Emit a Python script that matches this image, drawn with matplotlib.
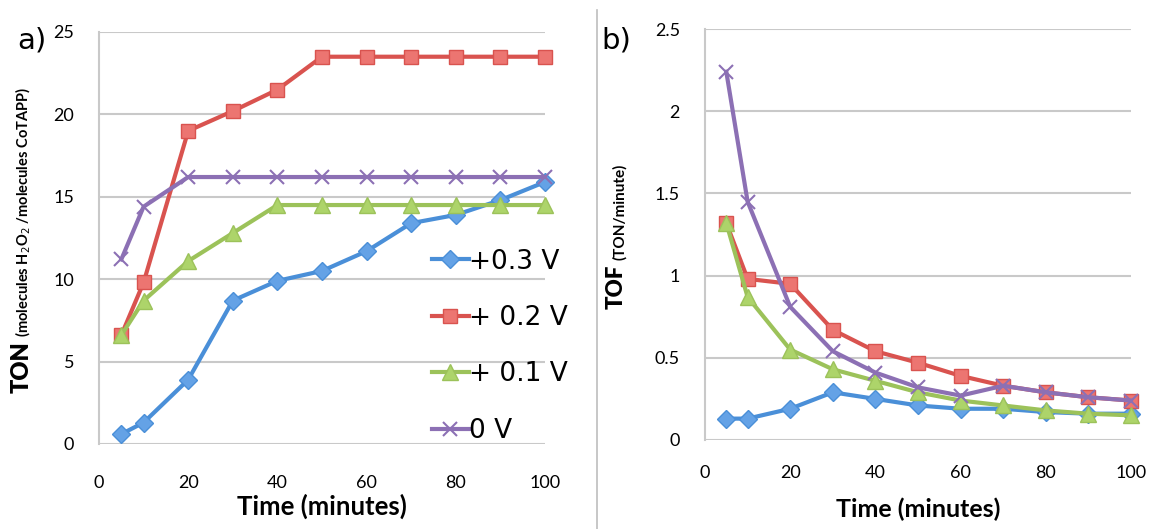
import matplotlib
matplotlib.use("Agg")
import matplotlib.pyplot as plt
from matplotlib.lines import Line2D

# ---- data ----
time_min = [5, 10, 20, 30, 40, 50, 60, 70, 80, 90, 100]

ton_03 = [0.6, 1.3, 3.9, 8.7, 9.9, 10.5, 11.7, 13.4, 13.9, 14.8, 15.9]
ton_02 = [6.6, 9.8, 19.0, 20.2, 21.5, 23.5, 23.5, 23.5, 23.5, 23.5, 23.5]
ton_01 = [6.6, 8.7, 11.1, 12.8, 14.5, 14.5, 14.5, 14.5, 14.5, 14.5, 14.5]
ton_00 = [11.2, 14.4, 16.2, 16.2, 16.2, 16.2, 16.2, 16.2, 16.2, 16.2, 16.2]

tof_03 = [0.13, 0.13, 0.19, 0.29, 0.25, 0.21, 0.19, 0.19, 0.17, 0.16, 0.16]
tof_02 = [1.32, 0.98, 0.95, 0.67, 0.54, 0.47, 0.39, 0.33, 0.29, 0.26, 0.24]
tof_01 = [1.32, 0.87, 0.55, 0.43, 0.36, 0.29, 0.24, 0.21, 0.18, 0.16, 0.15]
tof_00 = [2.24, 1.45, 0.81, 0.54, 0.41, 0.32, 0.27, 0.33, 0.29, 0.26, 0.24]

series_labels = ["+0.3 V", "+ 0.2 V", "+ 0.1 V", "0 V"]
x_ticks = [0, 20, 40, 60, 80, 100]
ton_ticks = [0, 5, 10, 15, 20, 25]
tof_ticks = [0, 0.5, 1, 1.5, 2, 2.5]
tof_tick_labels = ["0", "0.5", "1", "1.5", "2", "2.5"]

# ---- styles ----
styles = [
    dict(color="#4a8fd8", marker="D", markersize=9, mfc="#64a2e6", mec="#4a8fd8"),
    dict(color="#d9534f", marker="s", markersize=10, mfc="#ec7571", mec="#d9534f"),
    dict(color="#9cc25a", marker="^", markersize=11, mfc="#add46a", mec="#9cc25a"),
    dict(color="#8c70b4", marker="x", markersize=10, mfc="none", mec="#8c70b4",
         markeredgewidth=1.5),
]
GRID = "#c9c9c9"
FONT = "Lato"

W, H = 1154, 529
fig = plt.figure(figsize=(W / 100, H / 100), dpi=100)


def px_axes(x0, y0, x1, y1):
    # pixel box (top-left origin) -> figure axes
    return fig.add_axes([x0 / W, 1 - y1 / H, (x1 - x0) / W, (y1 - y0) / H])


def style_axes(ax, yticks, ylabels, ymax, xpad, ypad, ysize):
    ax.set_xlim(0, 100)
    ax.set_ylim(0, ymax)
    ax.set_xticks(x_ticks)
    ax.set_yticks(yticks)
    ax.set_yticklabels(ylabels)
    ax.tick_params(length=0)
    ax.tick_params(axis="x", pad=xpad, labelsize=13)
    ax.tick_params(axis="y", pad=ypad, labelsize=ysize)
    for lab in ax.get_xticklabels() + ax.get_yticklabels():
        lab.set_fontfamily(FONT)
    for s in ("top", "right", "bottom"):
        ax.spines[s].set_visible(False)
    ax.spines["left"].set_color(GRID)
    ax.spines["left"].set_linewidth(1.5)
    ax.grid(axis="y", color=GRID, linewidth=1.5)
    ax.set_axisbelow(True)


# ---- panel a: TON ----
ax1 = px_axes(99, 32, 545, 444)
for ys, st in zip([ton_03, ton_02, ton_01, ton_00], styles):
    ax1.plot(time_min, ys, linewidth=3, clip_on=False, **st)
style_axes(ax1, ton_ticks, [str(t) for t in ton_ticks], 25, 22, 18, 13)
ax1.set_xlabel("Time (minutes)", fontfamily=FONT, fontweight="bold",
               fontsize=18.5, labelpad=2)

handles = [Line2D([], [], linewidth=3, **st) for st in styles]
leg = ax1.legend(handles, series_labels, loc="lower right",
                 bbox_to_anchor=((578 - 99) / (545 - 99), -0.025),
                 frameon=False, prop=dict(family="DejaVu Sans", size=19),
                 handlelength=1.4, handletextpad=0.0, labelspacing=1.15,
                 borderaxespad=0.0)
leg.set_zorder(5)

# ---- panel b: TOF ----
ax2 = px_axes(705, 29, 1131, 440)
for ys, st in zip([tof_03, tof_02, tof_01, tof_00], styles):
    ax2.plot(time_min, ys, linewidth=3, clip_on=False, **st)
style_axes(ax2, tof_ticks, tof_tick_labels, 2.5, 18, 18, 13)
ax2.set_xlabel("Time (minutes)", fontfamily=FONT, fontweight="bold",
               fontsize=18, labelpad=12)

# ---- panel letters and divider ----
fig.text(17 / W, 1 - 40 / H, "a)", fontsize=21, fontfamily="DejaVu Sans",
         ha="left", va="center")
fig.text(601 / W, 1 - 40 / H, "b)", fontsize=21, fontfamily="DejaVu Sans",
         ha="left", va="center")
fig.add_artist(Line2D([597 / W, 597 / W], [0, 1 - 10 / H], color="#bdbdbd",
                      linewidth=1.2))

# ---- mixed-size rotated y labels ----
fig.canvas.draw()
renderer = fig.canvas.get_renderer()


def stacked_label(x_px, center_px, parts):
    texts = []
    for s, size, weight in parts:
        t = fig.text(x_px / W, 0.5, s, rotation=90, ha="right", va="bottom",
                     fontsize=size, fontweight=weight, fontfamily=FONT)
        texts.append(t)
    heights = [t.get_window_extent(renderer).height for t in texts]
    gap = 5
    total = sum(heights) + gap * (len(texts) - 1)
    y = (H - center_px) - total / 2
    for t, h in zip(texts, heights):
        t.set_y(y / H)
        y += h + gap


stacked_label(33, 240, [("TON", 17, "heavy"),
                        (r"(molecules H$_2$O$_2$ /molecules CoTAPP)", 10.5, "bold")])
stacked_label(627, 236, [("TOF", 16, "heavy"),
                         ("(TON/minute)", 11, "bold")])

fig.savefig("out.png", dpi=100)
